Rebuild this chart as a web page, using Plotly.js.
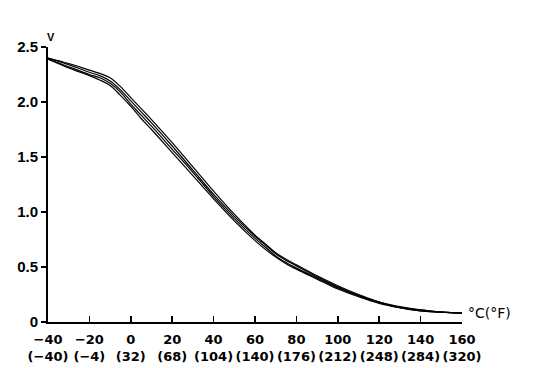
<!DOCTYPE html>
<html>
<head>
<meta charset="utf-8">
<script src="https://cdn.plot.ly/plotly-3.0.1.min.js"></script>
<style>html,body{margin:0;padding:0;background:#fff;}#chart{width:544px;height:368px;}</style>
</head>
<body>
<div id="chart"></div>
<script>
const tempC = [-40,-30,-20,-15,-10,-5,0,5,10,20,30,40,50,60,65,70,75,80,90,100,110,120,130,140,150,160];
const voltA = [2.40,2.35,2.29,2.26,2.22,2.14,2.04,1.94,1.84,1.63,1.41,1.19,0.98,0.79,0.71,0.63,0.57,0.52,0.42,0.33,0.25,0.18,0.14,0.11,0.09,0.08];
const voltB = [2.40,2.34,2.27,2.24,2.19,2.11,2.01,1.91,1.81,1.60,1.38,1.16,0.96,0.78,0.70,0.62,0.56,0.51,0.41,0.32,0.24,0.18,0.13,0.11,0.09,0.08];
const voltC = [2.39,2.32,2.25,2.22,2.17,2.09,1.98,1.88,1.78,1.57,1.36,1.14,0.94,0.76,0.68,0.60,0.54,0.49,0.40,0.31,0.24,0.18,0.13,0.10,0.09,0.08];
const voltD = [2.39,2.31,2.24,2.20,2.15,2.06,1.96,1.85,1.75,1.54,1.33,1.12,0.92,0.74,0.66,0.59,0.53,0.48,0.39,0.30,0.23,0.17,0.13,0.10,0.09,0.08];
const xTickVals = [-40,-20,0,20,40,60,80,100,120,140,160];
const xTickC = ["\u221240","\u221220","0","20","40","60","80","100","120","140","160"];
const xTickF = ["(\u221240)","(\u22124)","(32)","(68)","(104)","(140)","(176)","(212)","(248)","(284)","(320)"];
const yTickVals = [0,0.5,1.0,1.5,2.0,2.5];
const yTickText = ["0","0.5","1.0","1.5","2.0","2.5"];

const series = [voltA, voltB, voltC, voltD];
const traces = series.map(v => ({
  x: tempC, y: v, type: 'scatter', mode: 'lines',
  line: {color: '#000', width: 1.2, shape: 'spline', smoothing: 1},
  hoverinfo: 'skip', showlegend: false
}));

const layout = {
  width: 544, height: 368,
  margin: {l: 48, r: 82, t: 47, b: 46},
  paper_bgcolor: '#fff', plot_bgcolor: '#fff',
  showlegend: false,
  xaxis: {
    range: [-40, 160], showgrid: false, zeroline: false,
    showline: true, linecolor: '#000', linewidth: 2,
    ticks: 'inside', ticklen: 6, tickwidth: 1.5, tickcolor: '#000',
    ticklabelstandoff: 4,
    tickmode: 'array', tickvals: xTickVals,
    ticktext: xTickC.map((c, i) => c + '<br>' + xTickF[i]),
    tickfont: {family: 'DejaVu Sans', size: 13, color: '#000', weight: 'bold'}
  },
  yaxis: {
    range: [0, 2.5], showgrid: false, zeroline: false,
    showline: true, linecolor: '#000', linewidth: 2,
    ticks: 'outside', ticklen: 5, tickwidth: 1.5, tickcolor: '#000',
    tickmode: 'array', tickvals: yTickVals, ticktext: yTickText,
    tickfont: {family: 'Liberation Sans', size: 15, color: '#000', weight: 'bold'}
  },
  annotations: [
    {xref: 'paper', yref: 'paper', x: 0, y: 1, xanchor: 'left', yanchor: 'bottom',
     xshift: -3, yshift: 2, text: 'V', showarrow: false,
     font: {family: 'Liberation Sans', size: 11, color: '#000', weight: 'bold'}},
    {xref: 'paper', yref: 'paper', x: 1, y: 0, xanchor: 'left', yanchor: 'middle',
     xshift: 4, yshift: 9, text: '\u00B0C(\u00B0F)', showarrow: false,
     font: {family: 'DejaVu Sans', size: 14, color: '#000'}}
  ]
};

Plotly.newPlot('chart', traces, layout, {displayModeBar: false, staticPlot: true});
</script>
</body>
</html>
